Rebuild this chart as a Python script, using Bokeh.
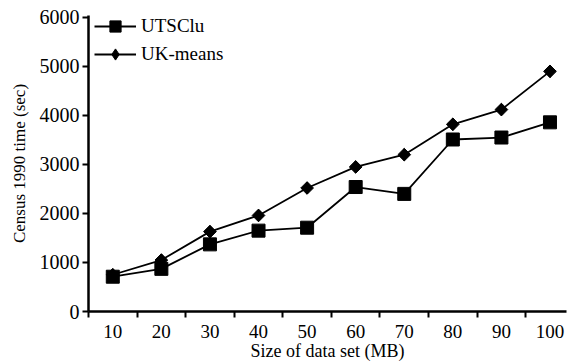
import math
from bokeh.plotting import figure
from bokeh.models import FixedTicker, Range1d, Legend, LegendItem
from bokeh.embed import file_html
from bokeh.resources import INLINE

sizes = [10, 20, 30, 40, 50, 60, 70, 80, 90, 100]
utsclu = [710, 870, 1370, 1650, 1710, 2540, 2400, 3510, 3550, 3860]
ukmeans = [750, 1050, 1630, 1960, 2520, 2950, 3200, 3820, 4120, 4900]
x_boundaries = [5, 15, 25, 35, 45, 55, 65, 75, 85, 95, 105]
y_ticks = [0, 1000, 2000, 3000, 4000, 5000, 6000]

FONT = "Liberation Serif"

p = figure(width=568, height=363, output_backend="svg", toolbar_location=None,
           x_range=Range1d(5, 103.4), y_range=Range1d(0, 6040),
           min_border_left=88, min_border_right=2, min_border_top=15, min_border_bottom=10)
p.outline_line_color = None
p.grid.visible = False
p.background_fill_color = "white"
p.border_fill_color = "white"

# x axis
xa = p.xaxis[0]
xa.ticker = FixedTicker(ticks=sizes, minor_ticks=x_boundaries)
xa.major_tick_out = 0
xa.major_tick_in = 0
xa.minor_tick_out = 6
xa.minor_tick_in = 0
xa.minor_tick_line_color = "black"
xa.minor_tick_line_width = 2
xa.axis_line_width = 2.5
xa.axis_line_color = "black"
xa.major_label_text_font = FONT
xa.major_label_text_font_size = "19px"
xa.major_label_text_color = "black"
xa.major_label_standoff = 7
xa.axis_label = "Size of data set (MB)"
xa.axis_label_text_font = FONT
xa.axis_label_text_font_size = "18px"
xa.axis_label_text_font_style = "normal"
xa.axis_label_text_color = "black"
xa.axis_label_standoff = 0

# y axis
ya = p.yaxis[0]
ya.ticker = FixedTicker(ticks=y_ticks)
ya.minor_tick_line_color = None
ya.major_tick_out = 6
ya.major_tick_in = 0
ya.major_tick_line_width = 2
ya.major_tick_line_color = "black"
ya.axis_line_width = 2.5
ya.axis_line_color = "black"
ya.major_label_text_font = FONT
ya.major_label_text_font_size = "20px"
ya.major_label_text_color = "black"
ya.major_label_standoff = 3
ya.axis_label = "Census 1990 time (sec)"
ya.axis_label_text_font = FONT
ya.axis_label_text_font_size = "17px"
ya.axis_label_text_font_style = "normal"
ya.axis_label_text_color = "black"
ya.axis_label_standoff = 8

l1 = p.line(sizes, utsclu, line_color="black", line_width=1.8)
m1 = p.scatter(sizes, utsclu, marker="square", size=13, fill_color="black", line_color="black")
l2 = p.line(sizes, ukmeans, line_color="black", line_width=1.8)
m2 = p.scatter(sizes, ukmeans, marker="square", size=9, angle=math.pi / 4,
               fill_color="black", line_color="black")
# diamond marker (hidden inside the rotated squares) used for the legend symbol
m2d = p.scatter(sizes, ukmeans, marker="diamond", size=12, fill_color="black", line_color="black")

legend = Legend(items=[LegendItem(label="UTSClu", renderers=[l1, m1]),
                       LegendItem(label="UK-means", renderers=[l2, m2d])],
                location=(6, 243))
legend.border_line_color = None
legend.background_fill_alpha = 0
legend.margin = 0
legend.padding = 2
legend.spacing = -5
legend.glyph_width = 42
legend.glyph_height = 28
legend.label_height = 21
legend.label_standoff = 5
legend.label_text_font = FONT
legend.label_text_font_size = "19px"
legend.label_text_color = "black"
legend.label_text_baseline = "middle"
p.add_layout(legend)

open("out.html", "w").write(file_html(p, INLINE))
